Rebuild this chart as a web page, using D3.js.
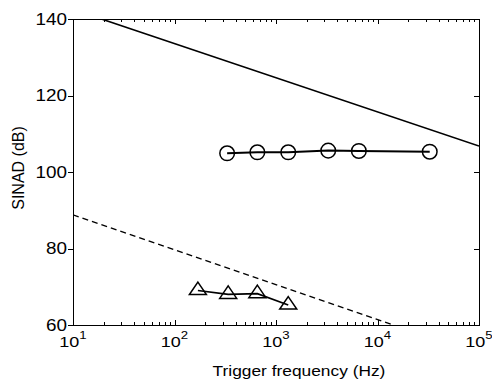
<!doctype html>
<html lang="en">
  <head>
    <meta charset="UTF-8" />
    <title>SINAD vs trigger frequency</title>
    <script src="https://d3js.org/d3.v7.min.js"></script>
    <style>
      html,
      body {
        margin: 0;
        padding: 0;
        background: #fff;
        overflow: hidden;
      }
      svg {
        display: block;
      }
      text {
        font-family: "Liberation Sans", Arial, sans-serif;
        fill: #000;
      }
    </style>
  </head>
  <body>
    <svg id="chart" width="492" height="381"></svg>

    <script>
      // values
      const circleFreq = [330, 655, 1320, 3270, 6550, 32700];
      const circleSinad = [104.9, 105.15, 105.15, 105.6, 105.5, 105.3];

      const triFreq = [170, 338, 655, 1320];
      const triSinad = [69.0, 68.0, 68.2, 65.2];

      // limit lines (end points)
      const solidFreq = [10, 100000];
      const solidSinad = [142.5, 106.8];
      const dashFreq = [10, 14300];
      const dashSinad = [88.8, 60];

      const xTickExp = [1, 2, 3, 4, 5];
      const yTicks = [60, 80, 100, 120, 140];

      const plotLeft = 73,
        plotRight = 479,
        plotTop = 19,
        plotBottom = 325;

      const svg = d3.select("#chart");

      const x = d3.scaleLog().domain([10, 1e5]).range([plotLeft, plotRight]);
      const y = d3.scaleLinear().domain([60, 140]).range([plotBottom, plotTop]);

      svg.append("clipPath")
        .attr("id", "plot-clip")
        .append("rect")
        .attr("x", plotLeft)
        .attr("y", plotTop)
        .attr("width", plotRight - plotLeft)
        .attr("height", plotBottom - plotTop);

      // minor + major ticks on bottom and top (inward)
      const ticksG = svg.append("g").attr("stroke", "#000").attr("stroke-width", 1);
      const logTicks = [];
      for (let e = 1; e < 5; e++) {
        for (let m = 1; m < 10; m++) logTicks.push({ v: m * Math.pow(10, e), major: m === 1 });
      }
      logTicks.push({ v: 1e5, major: true });
      logTicks.forEach((t) => {
        const px = Math.round(x(t.v)) + 0.5;
        const len = t.major ? 5 : 3;
        ticksG.append("line").attr("x1", px).attr("x2", px).attr("y1", plotBottom).attr("y2", plotBottom - len);
        ticksG.append("line").attr("x1", px).attr("x2", px).attr("y1", plotTop).attr("y2", plotTop + len);
      });

      // y ticks: left outward, right inward
      yTicks.forEach((v) => {
        const py = Math.round(y(v)) + 0.5;
        ticksG.append("line").attr("x1", plotLeft).attr("x2", plotLeft - 5).attr("y1", py).attr("y2", py);
        ticksG.append("line").attr("x1", plotRight).attr("x2", plotRight - 5).attr("y1", py).attr("y2", py);
      });

      // axes box
      svg.append("rect")
        .attr("x", plotLeft + 0.5)
        .attr("y", plotTop + 0.5)
        .attr("width", plotRight - plotLeft)
        .attr("height", plotBottom - plotTop)
        .attr("fill", "none")
        .attr("stroke", "#000")
        .attr("stroke-width", 1);

      const plot = svg.append("g").attr("clip-path", "url(#plot-clip)");
      const line = d3.line().x((d) => x(d[0])).y((d) => y(d[1]));

      plot.append("path")
        .attr("d", line(d3.zip(solidFreq, solidSinad)))
        .attr("fill", "none")
        .attr("stroke", "#000")
        .attr("stroke-width", 1.6);

      plot.append("path")
        .attr("d", line(d3.zip(dashFreq, dashSinad)))
        .attr("fill", "none")
        .attr("stroke", "#000")
        .attr("stroke-width", 1.4)
        .attr("stroke-dasharray", "6,4");

      // circle series
      const circ = d3.zip(circleFreq, circleSinad);
      plot.append("path")
        .attr("d", line(circ))
        .attr("fill", "none")
        .attr("stroke", "#000")
        .attr("stroke-width", 2);
      plot.selectAll("circle.m")
        .data(circ)
        .enter()
        .append("circle")
        .attr("class", "m")
        .attr("cx", (d) => x(d[0]))
        .attr("cy", (d) => y(d[1]))
        .attr("r", 7.3)
        .attr("fill", "none")
        .attr("stroke", "#000")
        .attr("stroke-width", 1.5);

      // triangle series
      const tri = d3.zip(triFreq, triSinad);
      plot.append("path")
        .attr("d", line(tri))
        .attr("fill", "none")
        .attr("stroke", "#000")
        .attr("stroke-width", 1.6);
      plot.selectAll("path.tri")
        .data(tri)
        .enter()
        .append("path")
        .attr("class", "tri")
        .attr("d", (d) => {
          const cx = x(d[0]),
            cy = y(d[1]);
          return `M${cx},${cy - 8.5}L${cx + 8.5},${cy + 4}L${cx - 8.5},${cy + 4}Z`;
        })
        .attr("fill", "none")
        .attr("stroke", "#000")
        .attr("stroke-width", 1.5);

      // y tick labels
      yTicks.forEach((v) => {
        svg.append("text")
          .attr("transform", `translate(67,${y(v)}) scale(1.18,1)`)
          .attr("text-anchor", "end")
          .attr("dy", "0.36em")
          .style("font-size", "16px")
          .text(v);
      });

      // x tick labels 10^n
      xTickExp.forEach((e) => {
        const t = svg.append("text")
          .attr("transform", `translate(${x(Math.pow(10, e))},347) scale(1.2,1)`)
          .attr("text-anchor", "middle")
          .style("font-size", "15px");
        t.append("tspan").text("10");
        t.append("tspan").attr("dy", -8).style("font-size", "11px").text(e);
      });

      // axis labels
      svg.append("text")
        .attr("transform", "translate(299,376) scale(1.24,1)")
        .attr("text-anchor", "middle")
        .style("font-size", "14px")
        .text("Trigger frequency (Hz)");

      svg.append("text")
        .attr("transform", "translate(24,168) rotate(-90)")
        .attr("text-anchor", "middle")
        .style("font-size", "16px")
        .text("SINAD (dB)");
    </script>
  </body>
</html>
